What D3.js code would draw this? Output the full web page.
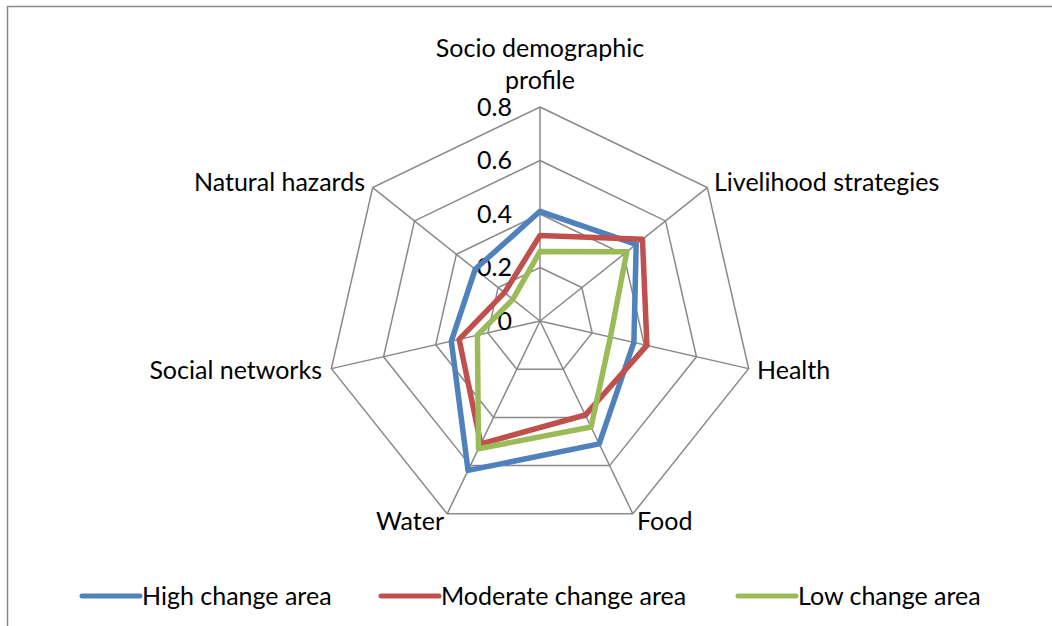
<!DOCTYPE html>
<html>
<head>
<meta charset="utf-8">
<script src="https://cdn.jsdelivr.net/npm/d3@7"></script>
<style>
  body { margin: 0; background: #fff; }
  svg text { font-family: Lato, "Open Sans", sans-serif; fill: #000; }
</style>
</head>
<body>
<svg id="chart"></svg>
<script>
'use strict';

var categories = ['Socio demographic profile', 'Livelihood strategies', 'Health', 'Food', 'Water', 'Social networks', 'Natural hazards'];
var highChange = [0.41, 0.46, 0.36, 0.51, 0.62, 0.34, 0.31];
var moderateChange = [0.32, 0.49, 0.41, 0.39, 0.51, 0.31, 0.17];
var lowChange = [0.26, 0.415, 0.27, 0.44, 0.53, 0.24, 0.13];
var ticks = [0, 0.2, 0.4, 0.6, 0.8];

var series = [
  { name: 'High change area', values: highChange, color: '#4F81BD' },
  { name: 'Moderate change area', values: moderateChange, color: '#C0504D' },
  { name: 'Low change area', values: lowChange, color: '#9BBB59' }
];

var width = 1052,
    height = 626,
    cx = 540,
    cy = 321,
    radius = 214,
    fontSize = '25px';

var svg = d3.select('#chart')
  .attr('width', width)
  .attr('height', height);

// frame (only left and top edges visible)
svg.append('path')
  .attr('d', 'M7.5,' + height + 'V6.5H' + width)
  .style('fill', 'none')
  .style('stroke', '#898989')
  .style('stroke-width', 1.5);

var r = d3.scaleLinear().domain([0, 0.8]).range([0, radius]);
var angle = d3.scaleLinear().domain([0, categories.length]).range([0, 2 * Math.PI]);

var g = svg.append('g').attr('transform', 'translate(' + cx + ',' + cy + ')');

function pt(i, v) {
  var a = angle(i);
  return [r(v) * Math.sin(a), -r(v) * Math.cos(a)];
}

// grid rings
ticks.filter(t => t > 0).forEach(t => {
  g.append('path')
    .attr('d', d3.line()(categories.map((c, i) => pt(i, t))) + 'Z')
    .style('fill', 'none')
    .style('stroke', '#898989')
    .style('stroke-width', 1.5);
});

// spokes
g.selectAll('line.spoke')
  .data(categories)
  .enter()
  .append('line')
  .attr('class', 'spoke')
  .attr('x1', 0).attr('y1', 0)
  .attr('x2', (d, i) => pt(i, 0.8)[0])
  .attr('y2', (d, i) => pt(i, 0.8)[1])
  .style('stroke', '#898989')
  .style('stroke-width', 1.5);

// tick labels
g.selectAll('text.tick')
  .data(ticks)
  .enter()
  .append('text')
  .attr('class', 'tick')
  .attr('x', -28)
  .attr('y', d => -r(d))
  .attr('dy', '0.35em')
  .style('text-anchor', 'end')
  .style('font-size', fontSize)
  .text(d => d === 0 ? '0' : d.toFixed(1));

// series
var line = d3.lineRadial()
  .angle((d, i) => angle(i))
  .radius(d => r(d))
  .curve(d3.curveLinearClosed);

g.selectAll('path.series')
  .data(series)
  .enter()
  .append('path')
  .attr('class', 'series')
  .attr('d', d => line(d.values))
  .style('fill', 'none')
  .style('stroke', d => d.color)
  .style('stroke-width', 5.5)
  .style('stroke-linejoin', 'round');

// category labels
var labelPos = [
  { x: 0, y: -273, anchor: 'middle', lines: ['Socio demographic', 'profile'] },
  { x: 174, y: -139, anchor: 'start' },
  { x: 217, y: 49, anchor: 'start' },
  { x: 97, y: 200, anchor: 'start' },
  { x: -96, y: 200, anchor: 'end' },
  { x: -218, y: 49, anchor: 'end' },
  { x: -175, y: -139, anchor: 'end' }
];

categories.forEach((c, i) => {
  var p = labelPos[i];
  var t = g.append('text')
    .attr('x', p.x)
    .attr('y', p.y)
    .style('text-anchor', p.anchor)
    .style('font-size', fontSize);
  var lines = p.lines || [c];
  lines.forEach((l, k) => {
    t.append('tspan').attr('x', p.x).attr('dy', k === 0 ? '0.35em' : '1.28em').text(l);
  });
});

// legend
var legendX = [82, 381, 738];
var legend = svg.selectAll('g.legend')
  .data(series)
  .enter()
  .append('g')
  .attr('class', 'legend')
  .attr('transform', (d, i) => 'translate(' + legendX[i] + ',596)');

legend.append('line')
  .attr('x1', 0).attr('x2', 58)
  .attr('y1', 0).attr('y2', 0)
  .style('stroke', d => d.color)
  .style('stroke-width', 5)
  .style('stroke-linecap', 'round');

legend.append('text')
  .attr('x', 60)
  .attr('y', 0)
  .attr('dy', '0.35em')
  .style('font-size', fontSize)
  .text(d => d.name);
</script>
</body>
</html>
